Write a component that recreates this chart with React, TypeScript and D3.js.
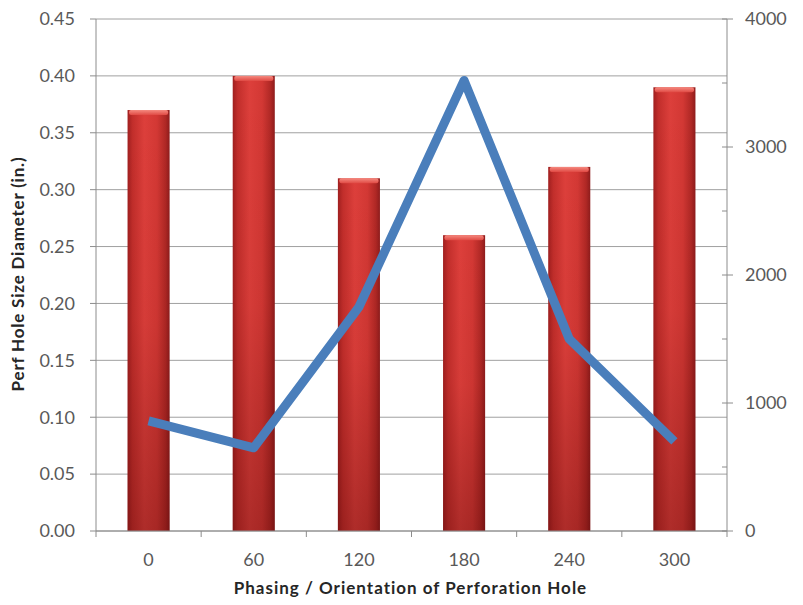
import React from "react";
import * as d3 from "d3";

// Phasing angle categories (degrees)
const phasing = ["0", "60", "120", "180", "240", "300"];
// Perforation hole size diameter (in.), left axis bars
const holeDiameter = [0.37, 0.4, 0.31, 0.26, 0.32, 0.39];
// Secondary series on right axis (line)
const secondaryValues = [860, 650, 1750, 3520, 1500, 700];
// Axis ticks
const leftTicks = [0, 0.05, 0.1, 0.15, 0.2, 0.25, 0.3, 0.35, 0.4, 0.45];
const rightMajorTicks = [0, 1000, 2000, 3000, 4000];
const rightMinorTicks = [500, 1500, 2500, 3500];

const W = 803;
const H = 605;
const left = 96;
const right = 727;
const top = 19;
const bottom = 531;

const FONT = "Lato, 'Open Sans', 'DejaVu Sans', sans-serif";

export default function App() {
  const x = d3
    .scaleBand<string>()
    .domain(phasing)
    .range([left, right])
    .paddingInner(0.6)
    .paddingOuter(0.3);
  const yL = d3.scaleLinear().domain([0, 0.45]).range([bottom, top]);
  const yR = d3.scaleLinear().domain([0, 4000]).range([bottom, top]);
  const step = x.step();
  const bw = x.bandwidth();

  const line = d3
    .line<number>()
    .x((_, i) => (x(phasing[i]) as number) + bw / 2)
    .y((d) => yR(d));

  const boundaries = d3.range(phasing.length + 1).map((i) => left + i * step);

  return (
    <svg
      width={W}
      height={H}
      style={{ position: "absolute", left: 0, top: 0, background: "#fff" }}
      fontFamily={FONT}
    >
      <defs>
        <linearGradient id="barH" x1="0" x2="1" y1="0" y2="0">
          <stop offset="0" stopColor="#a01f1f" />
          <stop offset="0.12" stopColor="#c22e2b" />
          <stop offset="0.4" stopColor="#dd3f3b" />
          <stop offset="0.7" stopColor="#d33834" />
          <stop offset="0.9" stopColor="#b02825" />
          <stop offset="1" stopColor="#8e1c1c" />
        </linearGradient>
        <linearGradient id="barV" x1="0" x2="0" y1="0" y2="1">
          <stop offset="0" stopColor="#400000" stopOpacity="0" />
          <stop offset="0.5" stopColor="#400000" stopOpacity="0.05" />
          <stop offset="1" stopColor="#400000" stopOpacity="0.3" />
        </linearGradient>
        <linearGradient id="cap" x1="0" x2="0" y1="0" y2="1">
          <stop offset="0" stopColor="#f58a80" />
          <stop offset="1" stopColor="#e04a44" />
        </linearGradient>
      </defs>

      {/* horizontal gridlines */}
      {leftTicks.map((t) => (
        <line
          key={"g" + t}
          x1={left}
          x2={right}
          y1={yL(t)}
          y2={yL(t)}
          stroke="#a0a0a0"
          strokeWidth={1}
        />
      ))}

      {/* bars */}
      {holeDiameter.map((v, i) => {
        const bx = x(phasing[i]) as number;
        const by = yL(v);
        const h = bottom - by;
        return (
          <g key={"b" + i}>
            <rect x={bx} y={by} width={bw} height={h} fill="url(#barH)" />
            <rect x={bx} y={by} width={bw} height={h} fill="url(#barV)" />
            <rect
              x={bx + 1.5}
              y={by}
              width={bw - 3}
              height={5}
              rx={2}
              fill="url(#cap)"
            />
          </g>
        );
      })}

      {/* left axis */}
      <line x1={left} x2={left} y1={top} y2={bottom} stroke="#8c8c8c" />
      {leftTicks.map((t) => (
        <g key={"l" + t}>
          <line
            x1={left - 6}
            x2={left}
            y1={yL(t)}
            y2={yL(t)}
            stroke="#8c8c8c"
          />
          <text
            x={left - 21}
            y={yL(t)}
            dy="0.35em"
            textAnchor="end"
            fontSize={18}
            fill="#595959"
          >
            {t.toFixed(2)}
          </text>
        </g>
      ))}

      {/* right axis */}
      <line x1={right} x2={right} y1={top} y2={bottom} stroke="#8c8c8c" />
      {rightMajorTicks.map((t) => (
        <g key={"r" + t}>
          <line
            x1={right - 5}
            x2={right + 6}
            y1={yR(t)}
            y2={yR(t)}
            stroke="#8c8c8c"
          />
          <text
            x={right + 18}
            y={yR(t)}
            dy="0.35em"
            textAnchor="start"
            fontSize={18}
            fill="#595959"
          >
            {t}
          </text>
        </g>
      ))}
      {rightMinorTicks.map((t) => (
        <line
          key={"rm" + t}
          x1={right - 5}
          x2={right}
          y1={yR(t)}
          y2={yR(t)}
          stroke="#8c8c8c"
        />
      ))}

      {/* bottom axis */}
      <line x1={left} x2={right} y1={bottom} y2={bottom} stroke="#8c8c8c" />
      {boundaries.map((bx, i) => (
        <line
          key={"xt" + i}
          x1={bx}
          x2={bx}
          y1={bottom}
          y2={bottom + 6}
          stroke="#8c8c8c"
        />
      ))}
      {phasing.map((c) => (
        <text
          key={"xl" + c}
          x={(x(c) as number) + bw / 2}
          y={bottom + 35}
          textAnchor="middle"
          fontSize={18}
          fill="#595959"
        >
          {c}
        </text>
      ))}

      {/* secondary line */}
      <path
        d={line(secondaryValues) || ""}
        fill="none"
        stroke="#4a7ebb"
        strokeWidth={9}
        strokeLinejoin="round"
        strokeLinecap="butt"
      />

      {/* axis titles */}
      <text
        x={(left + right) / 2 - 1}
        y={594}
        textAnchor="middle"
        fontSize={17}
        fontWeight="bold"
        letterSpacing={1}
        fill="#262626"
      >
        Phasing / Orientation of Perforation Hole
      </text>
      <text
        transform={`translate(24, 274) rotate(-90)`}
        textAnchor="middle"
        fontSize={17}
        fontWeight="bold"
        letterSpacing={0.8}
        fill="#262626"
      >
        Perf Hole Size Diameter (in.)
      </text>
    </svg>
  );
}
